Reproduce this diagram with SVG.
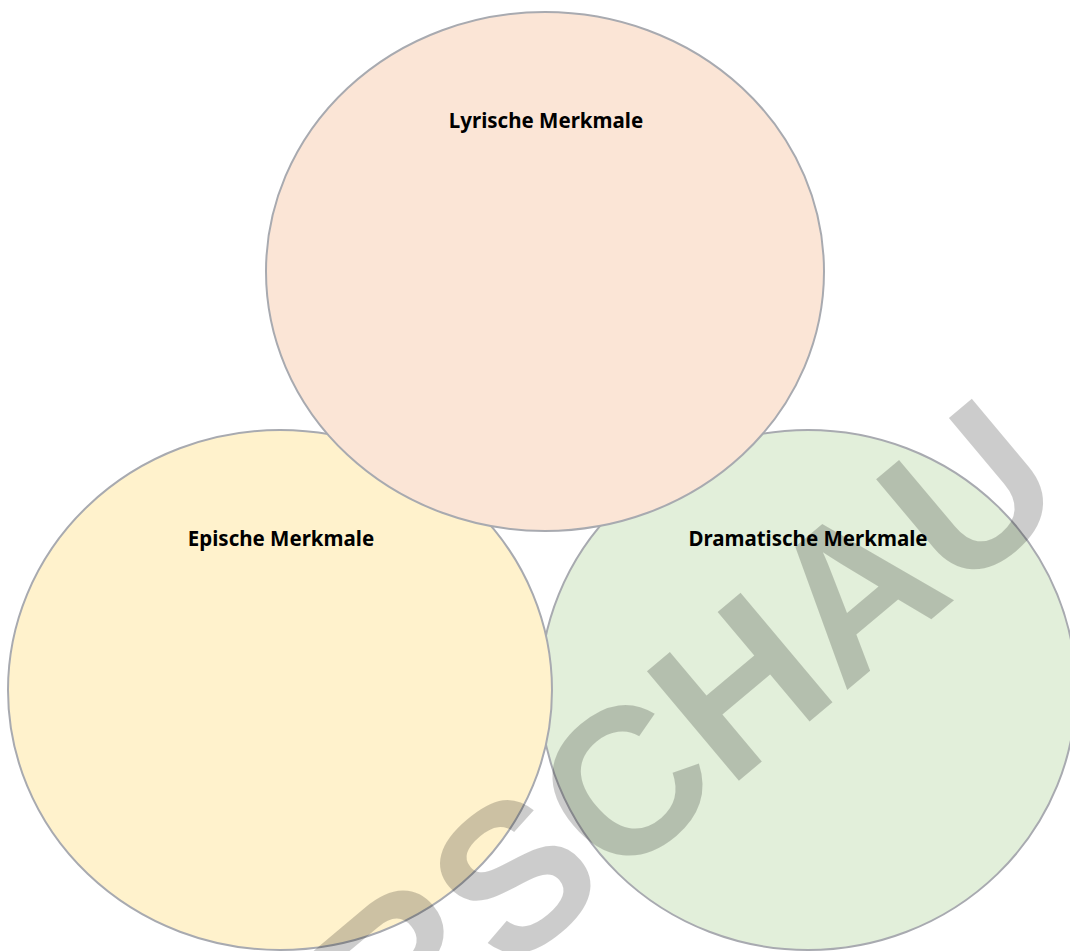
<svg xmlns="http://www.w3.org/2000/svg" width="1070" height="951" viewBox="0 0 1070 951">
<style>
.ring{stroke:#a8aab0;stroke-width:2}
.lbl{font-family:"Noto Sans","Open Sans","Liberation Sans",sans-serif;font-weight:bold;font-size:20.5px;fill:#000;text-anchor:middle}
.wm{font-family:"Liberation Sans",Arial,sans-serif;font-weight:bold;font-size:208px;fill:#000;fill-opacity:0.2;text-anchor:middle}
</style>
<rect width="1070" height="951" fill="#ffffff"/>
<g id="dramatisch">
<ellipse class="ring" cx="808" cy="690" rx="268" ry="260" fill="#e2efda"/>
<text class="lbl" x="808" y="546">Dramatische Merkmale</text>
</g>
<g id="episch">
<ellipse class="ring" cx="280" cy="690" rx="272" ry="260" fill="#fff2cc"/>
<text class="lbl" x="281" y="546">Epische Merkmale</text>
</g>
<g id="lyrisch">
<ellipse class="ring" cx="545" cy="271.5" rx="279" ry="259.5" fill="#fbe5d6"/>
<text class="lbl" x="546" y="128">Lyrische Merkmale</text>
</g>
<g id="connectors"></g>
<text class="wm" transform="translate(570,826) rotate(-40)" y="74">VORSCHAU</text>
</svg>
